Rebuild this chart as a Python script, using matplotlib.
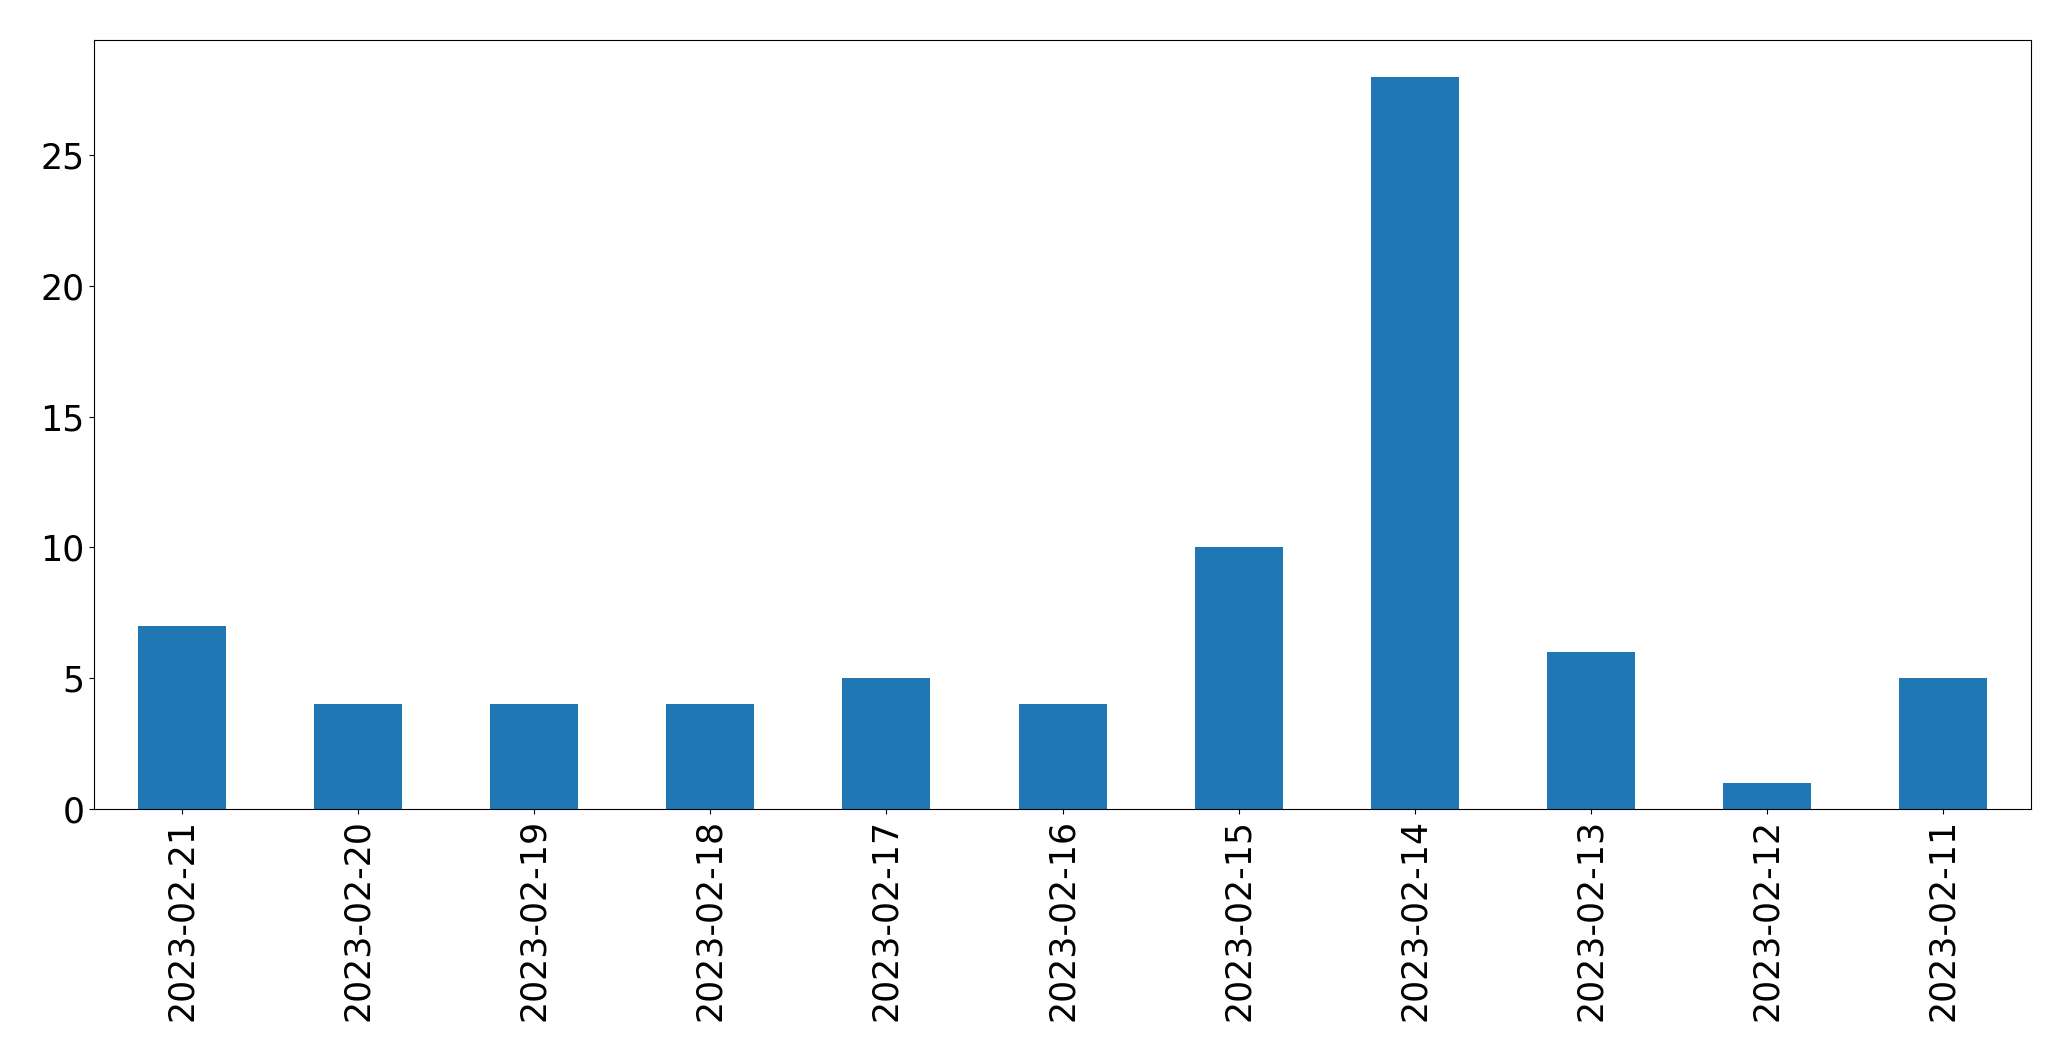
import matplotlib
matplotlib.use('Agg')
import matplotlib.pyplot as plt
import pandas as pd

dates = ['2023-02-21', '2023-02-20', '2023-02-19', '2023-02-18', '2023-02-17', '2023-02-16',
         '2023-02-15', '2023-02-14', '2023-02-13', '2023-02-12', '2023-02-11']
counts = [7, 4, 4, 4, 5, 4, 10, 28, 6, 1, 5]

s = pd.Series(counts, index=dates)

fig = plt.figure(figsize=(20.71, 10.61), dpi=100)
ax = fig.add_subplot(111)
s.plot(kind='bar', ax=ax, color='#1f77b4', width=0.5)
ax.tick_params(axis='both', labelsize=25)
fig.subplots_adjust(left=0.0454, right=0.9807, top=0.9623, bottom=0.2375)
fig.savefig('out.png', dpi=100)
